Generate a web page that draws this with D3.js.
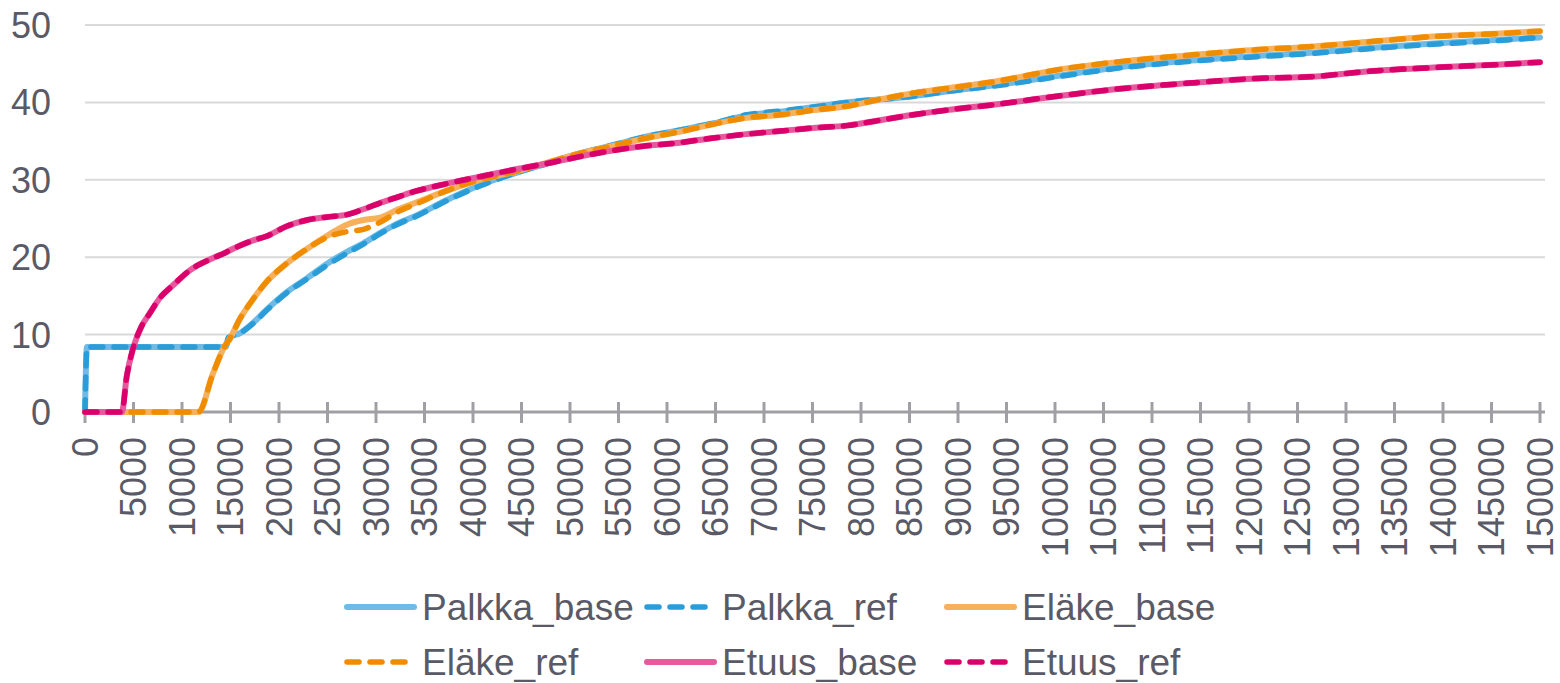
<!DOCTYPE html>
<html><head><meta charset="utf-8">
<script src="https://cdn.jsdelivr.net/npm/d3@7"></script>
<style>html,body{margin:0;padding:0;background:#fff;}svg{display:block;}</style>
</head><body>
<svg id="chart" width="1560" height="683"></svg>
<script>
const xValues = [0,200,3800,4300,5000,5800,6700,7700,9100,10800,11700,13200,14500,14800,16000,17400,18700,20800,22900,25000,27000,28700,30400,32300,34000,37300,40700,44200,47600,51000,54500,57900,61300,64800,68200,71700,75100,78500,82000,85400,88800,94300,100200,107000,113900,120800,126300,132100,139000,145900,150000];

const palkkaBase = [0,8.4,8.4,8.4,8.4,8.4,8.4,8.4,8.4,8.4,8.4,8.4,8.4,9.6,10.2,11.6,13.2,15.5,17.3,19.2,20.7,21.8,23.1,24.4,25.3,27.4,29.3,30.8,32.1,33.4,34.5,35.6,36.4,37.3,38.3,38.8,39.4,40.0,40.4,40.8,41.4,42.3,43.4,44.6,45.4,46.0,46.4,47.0,47.6,48.1,48.4];
const palkkaRef  = [0,8.4,8.4,8.4,8.4,8.4,8.4,8.4,8.4,8.4,8.4,8.4,8.4,9.6,10.2,11.5,13.1,15.4,17.2,19.0,20.5,21.7,23.0,24.3,25.2,27.3,29.2,30.8,32.1,33.4,34.5,35.6,36.4,37.3,38.4,38.9,39.4,40.0,40.4,40.8,41.4,42.2,43.3,44.5,45.3,45.9,46.3,46.9,47.5,48.0,48.4];
const elakeBase  = [0,0,0,0,0,0,0,0,0,0,0,5.0,8.7,9.2,12.1,14.7,16.8,19.2,21.1,22.8,24.2,24.8,25.1,26.2,27.0,28.6,30.0,31.0,32.2,33.4,34.4,35.4,36.2,37.2,38.0,38.4,39.0,39.5,40.4,41.2,41.8,42.8,44.2,45.3,46.1,46.8,47.2,47.8,48.5,48.9,49.2];
const elakeRef   = [0,0,0,0,0,0,0,0,0,0,0,5.0,8.7,9.2,12.1,14.7,16.8,19.2,21.1,22.6,23.3,23.6,24.5,25.9,26.8,28.6,30.0,31.0,32.2,33.4,34.4,35.4,36.2,37.2,38.0,38.4,39.0,39.5,40.4,41.2,41.8,42.8,44.2,45.3,46.1,46.8,47.2,47.8,48.5,48.9,49.2];
const etuusBase  = [0,0,0,4.6,8.4,11.0,12.8,14.7,16.4,18.3,19.0,19.9,20.6,20.8,21.5,22.2,22.7,24.0,24.8,25.2,25.5,26.2,27.0,27.8,28.5,29.5,30.4,31.3,32.1,33.0,33.8,34.4,34.8,35.4,35.9,36.3,36.7,37.0,37.7,38.4,39.0,39.8,40.8,41.8,42.5,43.1,43.3,44.0,44.5,44.9,45.2];
const etuusRef   = etuusBase.slice();

const seriesNames = ["Palkka_base","Palkka_ref","Eläke_base","Eläke_ref","Etuus_base","Etuus_ref"];
const seriesColors = ["#6DBBE6","#2A9DD9","#F7B05B","#F08C00","#E8589D","#D9006C"];
const seriesDashed = [false,true,false,true,false,true];
const seriesValues = [palkkaBase,palkkaRef,elakeBase,elakeRef,etuusBase,etuusRef];

const yTicks = [0,10,20,30,40,50];
const xTicks = d3.range(0,150001,5000);

const svg = d3.select("#chart");
const x = d3.scaleLinear().domain([0,150000]).range([85,1540]);
const y = d3.scaleLinear().domain([0,50]).range([412,25]);
const textColor = "#5A5A66";
const font = "'Liberation Sans', Arial, sans-serif";

// gridlines
svg.append("g").selectAll("line").data(yTicks.filter(d=>d>0)).join("line")
  .attr("x1",85).attr("x2",1545).attr("y1",d=>y(d)).attr("y2",d=>y(d))
  .attr("stroke","#D9D9D9").attr("stroke-width",2);

// y labels
svg.append("g").selectAll("text").data(yTicks).join("text")
  .attr("x",51).attr("y",d=>y(d)).attr("dy","0.36em").attr("text-anchor","end")
  .attr("font-family",font).attr("font-size",36).attr("fill",textColor).text(d=>d);

// x axis
const xAxis = d3.axisBottom(x).tickValues(xTicks).tickSize(0).tickFormat("");
const gx = svg.append("g").attr("transform","translate(0,412)").call(xAxis);
gx.select(".domain").remove();
svg.append("line").attr("x1",85).attr("x2",1545).attr("y1",412).attr("y2",412)
  .attr("stroke","#A0A0A4").attr("stroke-width",3);
svg.append("g").selectAll("line").data(xTicks).join("line")
  .attr("x1",d=>x(d)).attr("x2",d=>x(d)).attr("y1",402).attr("y2",423)
  .attr("stroke","#A0A0A4").attr("stroke-width",3);
svg.append("g").selectAll("text").data(xTicks).join("text")
  .attr("transform",d=>`translate(${x(d)},437) rotate(-90)`)
  .attr("dy","0.36em").attr("text-anchor","end")
  .attr("font-family",font).attr("font-size",36).attr("fill",textColor).text(d=>d);

// lines
const line = d3.line().x((d,i)=>x(xValues[i])).y(d=>y(d)).curve(d3.curveMonotoneX);
seriesValues.forEach((vals,k)=>{
  svg.append("path").datum(vals).attr("d",line).attr("fill","none")
    .attr("stroke",seriesColors[k])
    .attr("stroke-width",seriesDashed[k]?5.5:6)
    .attr("stroke-linecap","round").attr("stroke-linejoin","round")
    .attr("stroke-dasharray",seriesDashed[k]?"12,11":null);
});

// legend
const legendPos = [[344,607],[644,607],[944,607],[344,662],[644,662],[944,662]];
seriesNames.forEach((name,k)=>{
  const [lx,ly] = legendPos[k];
  svg.append("line").attr("x1",lx+3).attr("x2",seriesDashed[k]?lx+63:lx+70).attr("y1",ly).attr("y2",ly)
    .attr("stroke",seriesColors[k]).attr("stroke-width",seriesDashed[k]?5.5:6)
    .attr("stroke-linecap","round")
    .attr("stroke-dasharray",seriesDashed[k]?"12,11":null);
  svg.append("text").attr("x",lx+78).attr("y",ly).attr("dy","0.36em")
    .attr("font-family",font).attr("font-size",37).attr("fill",textColor).text(name);
});
</script>
</body></html>
